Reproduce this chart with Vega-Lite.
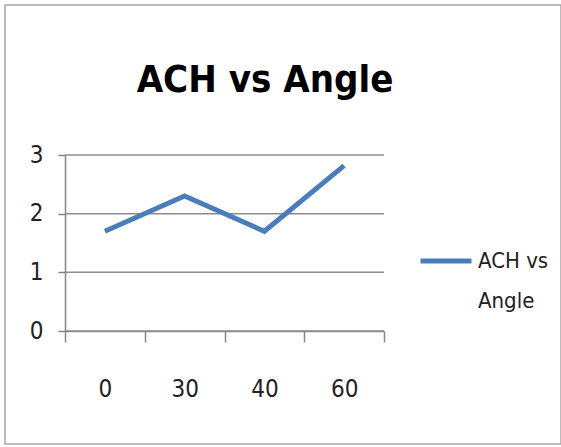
{
  "$schema": "https://vega.github.io/schema/vega-lite/v6.json",
  "width": 556,
  "height": 439,
  "autosize": "none",
  "padding": {"left": 5, "top": 5, "right": 0, "bottom": 3},
  "background": "white",
  "config": {
    "view": {"stroke": "#a6a6a6", "strokeWidth": 1.5},
    "font": "DejaVu Sans Condensed, Liberation Sans, sans-serif",
    "style": {"guide-label": {"lineHeight": 40}}
  },
  "title": {
    "text": "ACH vs Angle",
    "font": "DejaVu Sans Condensed, Liberation Sans, sans-serif",
    "fontSize": 38,
    "fontWeight": "bold",
    "anchor": "middle",
    "dx": -18,
    "offset": -95,
    "color": "black"
  },
  "layer": [
    {
      "data": {"values": [{"y": 0}, {"y": 1}, {"y": 2}, {"y": 3}]},
      "mark": {"type": "rule", "color": "#8c8c8c", "strokeWidth": 1.5},
      "encoding": {
        "x": {"datum": 0, "type": "quantitative", "scale": {"domain": [0, 1], "range": [60, 379]}, "axis": null},
        "x2": {"datum": 1},
        "y": {
          "field": "y",
          "type": "quantitative",
          "scale": {"domain": [0, 3], "range": [326, 150]},
          "axis": {
            "title": null,
            "offset": -60,
            "grid": false,
            "values": [0, 1, 2, 3],
            "format": "d",
            "tickSize": 7,
            "tickColor": "#868686",
            "tickWidth": 1.5,
            "domainColor": "#868686",
            "domainWidth": 1.5,
            "labelPadding": 15,
            "labelFontSize": 24,
            "labelColor": "#222222"
          }
        }
      }
    },
    {
      "data": {"values": [
        {"angle": "0", "ach": 1.7},
        {"angle": "30", "ach": 2.3},
        {"angle": "40", "ach": 1.7},
        {"angle": "60", "ach": 2.82}
      ]},
      "mark": {"type": "line", "strokeWidth": 5},
      "encoding": {
        "x": {
          "field": "angle",
          "type": "ordinal",
          "sort": null,
          "scale": {"type": "band", "range": [60, 379], "paddingInner": 0, "paddingOuter": 0},
          "axis": {
            "title": null,
            "offset": -113,
            "tickBand": "extent",
            "tickSize": 11,
            "tickColor": "#868686",
            "tickWidth": 1.5,
            "domainColor": "#868686",
            "domainWidth": 1.5,
            "labelAngle": 0,
            "labelPadding": 35,
            "labelFontSize": 24,
            "labelColor": "#222222"
          }
        },
        "y": {"field": "ach", "type": "quantitative"},
        "color": {
          "datum": "ACH vs Angle",
          "scale": {"range": ["#4a7ebb"]},
          "legend": {
            "title": null,
            "orient": "none",
            "legendX": 413,
            "legendY": 228,
            "symbolType": "stroke",
            "symbolSize": 2600,
            "symbolStrokeWidth": 5,
            "labelFontSize": 22,
            "labelColor": "#222222",
            "labelExpr": "['ACH vs', 'Angle']"
          }
        }
      }
    }
  ],
  "resolve": {"scale": {"x": "independent"}}
}
